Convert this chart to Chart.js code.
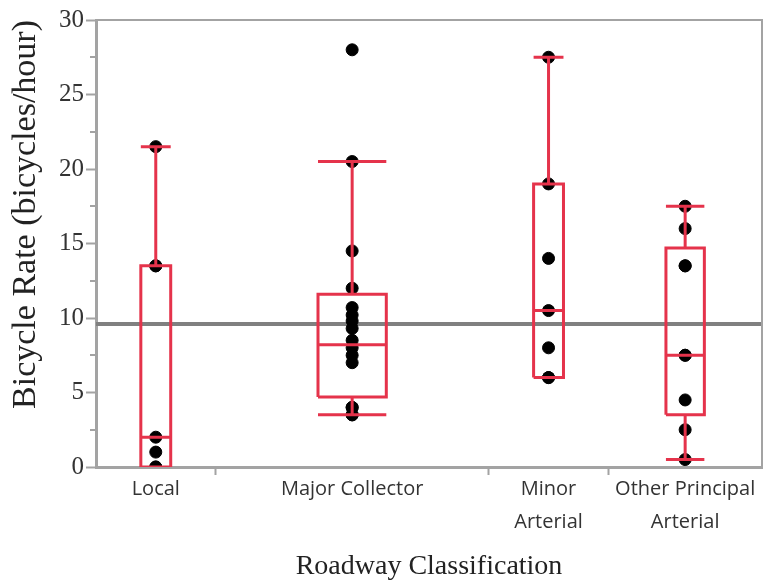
<!DOCTYPE html>
<html>
<head>
<meta charset="utf-8">
<script src="https://cdn.jsdelivr.net/npm/chart.js@4/dist/chart.umd.min.js"></script>
<style>
  html, body { margin: 0; padding: 0; background: #fff; }
  #wrap { width: 769px; height: 586px; }
</style>
</head>
<body>
<div id="wrap"><canvas id="bikeChart"></canvas></div>
<script>
// values
var categories = ['Local', 'Major Collector', ['Minor', 'Arterial'], ['Other Principal', 'Arterial']];

var localRates = [0, 0, 1, 2, 13.5, 13.5, 21.5];
var majorCollectorRates = [3.5, 3.5, 4, 4, 7, 7.5, 8, 8.5, 9.3, 9.8, 10.2, 10.7, 12, 14.5, 20.5, 28];
var minorArterialRates = [6, 6, 8, 10.5, 14, 19, 27.5];
var otherPrincipalRates = [0.5, 2.5, 4.5, 7.5, 7.5, 13.5, 13.5, 16, 17.5];

var q1 = [0, 4.7, 6, 3.5];
var medians = [2, 8.2, 10.5, 7.5];
var q3 = [13.5, 11.6, 19, 14.7];
var whiskerLow = [0, 3.5, 6, 0.5];
var whiskerHigh = [21.5, 20.5, 27.5, 17.5];
var overallMean = 9.6;

var groups = [localRates, majorCollectorRates, minorArterialRates, otherPrincipalRates];

// JMP style: each category gets a slice of the axis as wide as its sample size
var centers = [], ends = [];
var total = 0;
groups.forEach(function (g) {
    centers.push(total + g.length / 2);
    total += g.length;
    ends.push(total);
});
var boundaries = ends.slice(0, -1);

var red = '#e5334b';
var grey = '#a3a3a3';

function boxPath(i) {
    var c = centers[i];
    var half = groups[i].length * 0.125;
    var l = c - half, r = c + half;
    return [
        {x: l, y: q1[i]}, {x: r, y: q1[i]}, {x: r, y: q3[i]}, {x: l, y: q3[i]}, {x: l, y: q1[i]},
        {x: l, y: null},
        {x: l, y: medians[i]}, {x: r, y: medians[i]},
        {x: r, y: null},
        {x: c, y: q3[i]}, {x: c, y: whiskerHigh[i]},
        {x: c, y: null},
        {x: l, y: whiskerHigh[i]}, {x: r, y: whiskerHigh[i]},
        {x: r, y: null},
        {x: c, y: q1[i]}, {x: c, y: whiskerLow[i]},
        {x: c, y: null},
        {x: l, y: whiskerLow[i]}, {x: r, y: whiskerLow[i]}
    ];
}

var datasets = [];

groups.forEach(function (g, i) {
    datasets.push({
        type: 'line',
        data: boxPath(i),
        borderColor: red,
        borderWidth: 3,
        pointRadius: 0,
        spanGaps: false,
        fill: false,
        order: 1
    });
});

var dots = [];
groups.forEach(function (g, i) {
    g.forEach(function (v) { dots.push({x: centers[i], y: v}); });
});
datasets.push({
    type: 'scatter',
    data: dots,
    backgroundColor: '#000',
    borderColor: '#000',
    pointRadius: 6,
    order: 2
});

datasets.push({
    type: 'line',
    data: [{x: 0, y: overallMean}, {x: total, y: overallMean}],
    borderColor: '#808080',
    borderWidth: 4,
    pointRadius: 0,
    order: 3
});

// minor ticks on the y axis and the grey top/right frame
var framePlugin = {
    id: 'frame',
    afterDraw: function (chart) {
        var ctx = chart.ctx, a = chart.chartArea, y = chart.scales.y;
        ctx.save();
        ctx.strokeStyle = grey;
        ctx.lineWidth = 2;
        ctx.beginPath();
        ctx.moveTo(a.left, a.top);
        ctx.lineTo(a.right, a.top);
        ctx.lineTo(a.right, a.bottom);
        ctx.stroke();
        for (var v = 2.5; v < y.max; v += 5) {
            var py = Math.round(y.getPixelForValue(v));
            ctx.beginPath();
            ctx.moveTo(a.left - 6, py);
            ctx.lineTo(a.left, py);
            ctx.stroke();
        }
        ctx.restore();
    }
};

var config = {
    type: 'scatter',
    data: { datasets: datasets },
    options: {
        responsive: true,
        maintainAspectRatio: false,
        animation: false,
        layout: { padding: { left: 0, top: 20, right: 2, bottom: 0 } },
        plugins: { legend: { display: false }, tooltip: { enabled: false } },
        scales: {
            x: {
                type: 'linear',
                min: 0,
                max: total,
                afterBuildTicks: function (scale) {
                    var t = [];
                    boundaries.forEach(function (b) { t.push({value: b}); });
                    centers.forEach(function (c) { t.push({value: c}); });
                    t.sort(function (a, b) { return a.value - b.value; });
                    scale.ticks = t;
                },
                afterFit: function (scale) { scale.height = 119; },
                border: { color: grey, width: 3 },
                grid: {
                    drawOnChartArea: false,
                    tickLength: 8,
                    tickWidth: 2,
                    tickColor: function (ctx) {
                        return ctx.tick && boundaries.indexOf(ctx.tick.value) >= 0 ? grey : 'rgba(0,0,0,0)';
                    }
                },
                ticks: {
                    autoSkip: false,
                    maxRotation: 0,
                    padding: -2,
                    color: '#333',
                    font: { family: '"Open Sans", sans-serif', size: 20, lineHeight: 1.65 },
                    callback: function (value) {
                        var i = centers.indexOf(value);
                        return i >= 0 ? categories[i] : '';
                    }
                },
                title: {
                    display: true,
                    text: 'Roadway Classification',
                    color: '#222',
                    font: { family: '"Liberation Serif", serif', size: 28 },
                    padding: { top: 0, bottom: 3 }
                }
            },
            y: {
                min: 0,
                max: 30,
                afterFit: function (scale) { scale.width = 96; },
                border: { color: grey, width: 3 },
                grid: { drawOnChartArea: false, tickLength: 10, tickWidth: 2, tickColor: grey },
                ticks: {
                    stepSize: 5,
                    padding: 2,
                    color: '#333',
                    font: { family: '"Liberation Serif", serif', size: 25 }
                },
                title: {
                    display: true,
                    text: 'Bicycle Rate (bicycles/hour)',
                    align: 'end',
                    color: '#222',
                    font: { family: '"Liberation Serif", serif', size: 34 },
                    padding: { top: 6, bottom: 0 }
                }
            }
        }
    },
    plugins: [framePlugin]
};

var bikeChart = new Chart(document.getElementById('bikeChart'), config);
</script>
</body>
</html>
